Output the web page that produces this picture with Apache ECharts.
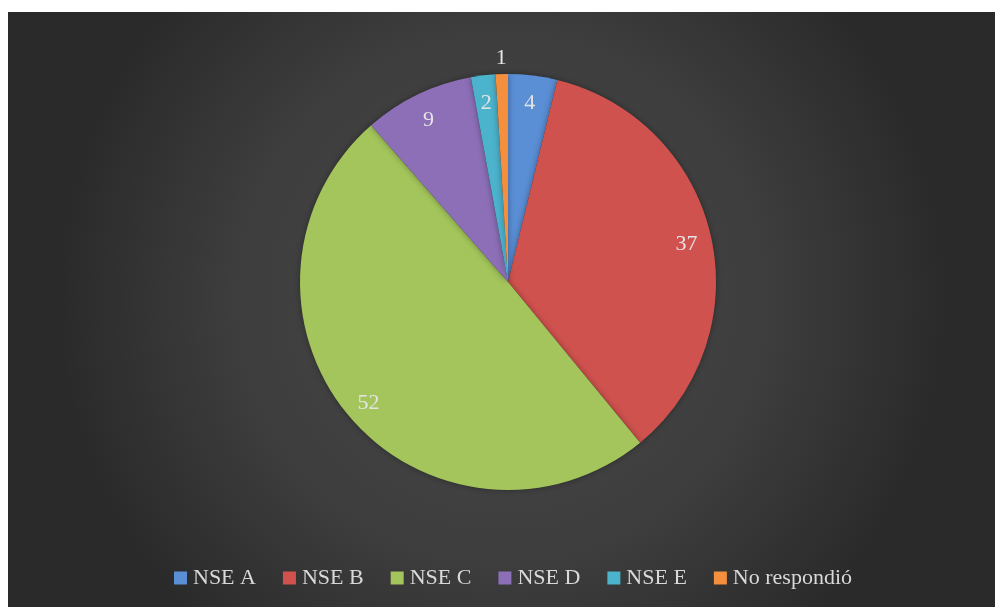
<!DOCTYPE html>
<html>
<head>
<meta charset="utf-8">
<script src="https://cdn.jsdelivr.net/npm/echarts@6/dist/echarts.min.js"></script>
<style>
html,body{margin:0;padding:0;background:#fff;}
#c{position:absolute;left:8px;top:12px;width:987px;height:595px;}
</style>
</head>
<body>
<div id="c"></div>
<script>
const categories = ['NSE A', 'NSE B', 'NSE C', 'NSE D', 'NSE E', 'No respondió'];
const values = [4, 37, 52, 9, 2, 1];
const colors = ['#5a8ed5', '#d0524f', '#a3c55b', '#8d6fb8', '#4cb3cd', '#f48f3d'];

const chart = echarts.init(document.getElementById('c'));
const font = '"Liberation Serif", "DejaVu Serif", serif';
const center = [500, 270];

function mkData(showFn, transparent) {
  return categories.map((n, i) => ({
    name: n,
    value: values[i],
    itemStyle: { color: transparent ? 'rgba(0,0,0,0)' : colors[i] },
    label: { show: showFn(i) }
  }));
}

const labelStyle = { position: 'inside', formatter: '{c}', color: '#e4e4e4', fontSize: 22, fontFamily: font, offset: [0, 3] };

chart.setOption({
  backgroundColor: {
    type: 'radial', x: 0.5, y: 0.48, r: 0.75,
    colorStops: [
      { offset: 0, color: '#4b4b4b' },
      { offset: 0.6, color: '#3d3d3d' },
      { offset: 1, color: '#2a2a2a' }
    ]
  },
  legend: {
    data: categories.map((n, i) => ({ name: n, itemStyle: { color: colors[i] } })),
    bottom: 13,
    left: 161,
    icon: 'rect',
    itemWidth: 13,
    itemHeight: 13,
    itemGap: 27,
    textStyle: { color: '#d9d9d9', fontSize: 22, fontFamily: font, padding: [0, 0, 0, 1] }
  },
  series: [
    {
      type: 'pie',
      center: center,
      radius: [0, 208],
      startAngle: 90,
      clockwise: true,
      silent: true,
      label: { show: false },
      labelLine: { show: false },
      itemStyle: {
        borderWidth: 0,
        shadowBlur: 6,
        shadowColor: 'rgba(0,0,0,0.35)'
      },
      data: mkData(() => false, false)
    },
    {
      type: 'pie',
      center: center,
      radius: [152, 208],
      startAngle: 90,
      clockwise: true,
      silent: true,
      avoidLabelOverlap: false,
      legendHoverLink: false,
      label: labelStyle,
      labelLine: { show: false },
      data: mkData(i => i < 5, true)
    },
    {
      type: 'pie',
      center: center,
      radius: [208, 240],
      startAngle: 90,
      clockwise: true,
      silent: true,
      avoidLabelOverlap: false,
      legendHoverLink: false,
      label: labelStyle,
      labelLine: { show: false },
      data: mkData(i => i === 5, true)
    }
  ]
});
</script>
</body>
</html>
